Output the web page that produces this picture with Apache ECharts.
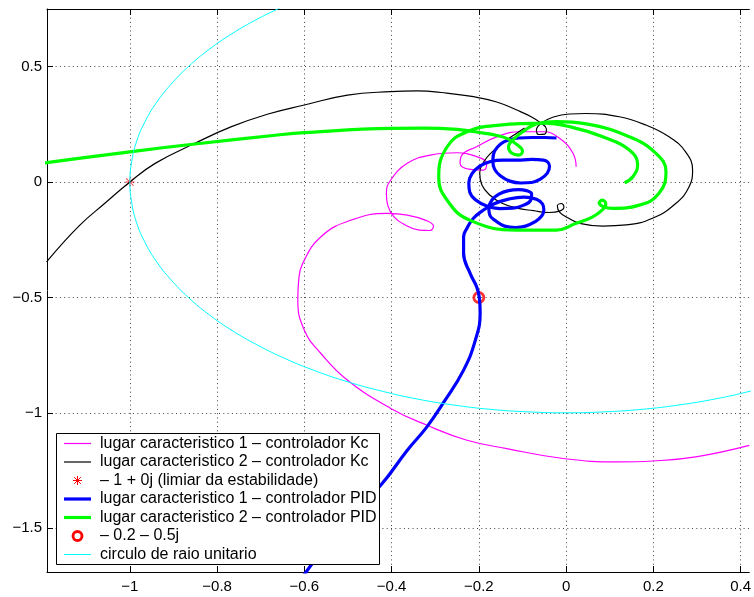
<!DOCTYPE html>
<html>
<head>
<meta charset="utf-8">
<script src="https://cdn.jsdelivr.net/npm/echarts@6/dist/echarts.min.js"></script>
<style>
  html, body { margin: 0; padding: 0; background: #fff; }
  #chart { width: 754px; height: 597px; }
</style>
</head>
<body>
<div id="chart"></div>
<script>
// tick values
var xTicks = [-1, -0.8, -0.6, -0.4, -0.2, 0, 0.2, 0.4];
var yTicks = [-1.5, -1, -0.5, 0, 0.5];

// lugar caracteristico 1 - controlador Kc
var kc1 = [
  [0.420, -1.141], [0.297, -1.191], [0.198, -1.209], [0.122, -1.213], [-0.007, -1.198],
  [-0.136, -1.155], [-0.227, -1.119], [-0.319, -1.054], [-0.402, -0.981], [-0.501, -0.859],
  [-0.562, -0.743], [-0.600, -0.642], [-0.615, -0.512], [-0.613, -0.425], [-0.604, -0.353],
  [-0.562, -0.237], [-0.493, -0.165], [-0.410, -0.136], [-0.364, -0.143], [-0.323, -0.165],
  [-0.304, -0.191], [-0.312, -0.210], [-0.337, -0.208], [-0.369, -0.186], [-0.394, -0.152],
  [-0.409, -0.100], [-0.412, -0.048], [-0.402, 0.009], [-0.364, 0.081], [-0.311, 0.117],
  [-0.250, 0.127], [-0.205, 0.110], [-0.182, 0.081], [-0.189, 0.052], [-0.220, 0.055],
  [-0.243, 0.081], [-0.239, 0.117], [-0.205, 0.153], [-0.159, 0.196], [-0.106, 0.218],
  [-0.052, 0.218], [-0.015, 0.190], [0.016, 0.124], [0.023, 0.066]
];

// lugar caracteristico 2 - controlador Kc
var kc2 = [
  [-1.191, -0.346], [-1.117, -0.191], [-1.056, -0.090], [-1.000, 0.000], [-0.942, 0.081],
  [-0.851, 0.168], [-0.767, 0.240], [-0.683, 0.295], [-0.600, 0.334], [-0.501, 0.377],
  [-0.402, 0.392], [-0.341, 0.395], [-0.280, 0.387], [-0.212, 0.370], [-0.159, 0.347],
  [-0.113, 0.312], [-0.079, 0.282], [-0.058, 0.256], [-0.045, 0.230], [-0.049, 0.208],
  [-0.062, 0.206], [-0.068, 0.225], [-0.056, 0.256], [-0.029, 0.282], [0.008, 0.295],
  [0.046, 0.297], [0.122, 0.283], [0.183, 0.247], [0.236, 0.196], [0.274, 0.131],
  [0.290, 0.052], [0.282, -0.020], [0.252, -0.092], [0.198, -0.157], [0.138, -0.186],
  [0.084, -0.191], [0.031, -0.179], [0.005, -0.156], [-0.015, -0.130], [-0.020, -0.104],
  [-0.011, -0.093], [-0.005, -0.108], [-0.015, -0.126], [-0.038, -0.132], [-0.075, -0.124],
  [-0.113, -0.113], [-0.148, -0.091], [-0.175, -0.056], [-0.193, -0.013], [-0.198, 0.039],
  [-0.189, 0.087], [-0.170, 0.130], [-0.143, 0.173], [-0.113, 0.212], [-0.095, 0.234]
];

// lugar caracteristico 1 - controlador PID
var pid1 = [
  [-0.620, -1.750], [-0.596, -1.690], [-0.531, -1.523], [-0.425, -1.314], [-0.364, -1.162],
  [-0.319, -1.061], [-0.280, -0.953], [-0.235, -0.815], [-0.208, -0.685], [-0.197, -0.569],
  [-0.199, -0.499], [-0.205, -0.454], [-0.220, -0.396], [-0.235, -0.309], [-0.235, -0.237],
  [-0.227, -0.199], [-0.214, -0.160], [-0.193, -0.126], [-0.166, -0.095], [-0.132, -0.074],
  [-0.097, -0.065], [-0.068, -0.074], [-0.054, -0.095], [-0.051, -0.121], [-0.056, -0.147],
  [-0.072, -0.173], [-0.093, -0.191], [-0.116, -0.197], [-0.141, -0.191], [-0.161, -0.169],
  [-0.175, -0.143], [-0.177, -0.113], [-0.170, -0.078], [-0.154, -0.052], [-0.132, -0.037],
  [-0.109, -0.033], [-0.091, -0.037], [-0.079, -0.052], [-0.081, -0.078], [-0.097, -0.100],
  [-0.122, -0.113], [-0.152, -0.115], [-0.182, -0.104], [-0.207, -0.078], [-0.221, -0.043],
  [-0.223, -0.004], [-0.216, 0.035], [-0.198, 0.069], [-0.173, 0.089], [-0.145, 0.095],
  [-0.113, 0.095], [-0.079, 0.098], [-0.052, 0.095], [-0.038, 0.069], [-0.043, 0.039],
  [-0.059, 0.013], [-0.079, -0.002], [-0.104, -0.004], [-0.129, 0.004], [-0.150, 0.026],
  [-0.164, 0.056], [-0.168, 0.095], [-0.164, 0.134], [-0.150, 0.165], [-0.132, 0.182],
  [-0.109, 0.191], [-0.079, 0.193], [-0.049, 0.193], [-0.022, 0.191]
];

// lugar caracteristico 2 - controlador PID
var pid2 = [
  [-1.250, 0.070], [-1.191, 0.084], [-1.000, 0.131], [-0.851, 0.165], [-0.661, 0.204],
  [-0.600, 0.214], [-0.402, 0.233], [-0.326, 0.234], [-0.250, 0.228], [-0.189, 0.212],
  [-0.159, 0.202], [-0.132, 0.186], [-0.111, 0.160], [-0.100, 0.134], [-0.109, 0.117],
  [-0.125, 0.126], [-0.132, 0.152], [-0.120, 0.186], [-0.097, 0.221], [-0.068, 0.252],
  [-0.022, 0.262], [0.046, 0.252], [0.145, 0.196], [0.206, 0.124], [0.229, 0.045],
  [0.213, -0.049], [0.168, -0.100], [0.107, -0.114], [0.087, -0.108], [0.076, -0.091],
  [0.083, -0.078], [0.091, -0.095], [0.081, -0.124], [0.060, -0.152], [0.023, -0.179],
  [-0.022, -0.208], [-0.113, -0.208], [-0.221, -0.165], [-0.273, -0.078], [-0.292, 0.023],
  [-0.273, 0.152], [-0.227, 0.218], [-0.152, 0.247], [-0.052, 0.255], [0.008, 0.240],
  [0.084, 0.196], [0.145, 0.139], [0.164, 0.074], [0.153, 0.023], [0.134, -0.003]
];

// circulo de raio unitario
var unitCircle = [
  [-0.643, 0.766], [-0.707, 0.707], [-0.766, 0.643], [-0.819, 0.574], [-0.866, 0.500],
  [-0.906, 0.423], [-0.940, 0.342], [-0.966, 0.259], [-0.985, 0.174], [-0.996, 0.087],
  [-1.000, 0.000], [-0.996, -0.087], [-0.985, -0.174], [-0.966, -0.259], [-0.940, -0.342],
  [-0.906, -0.423], [-0.866, -0.500], [-0.819, -0.574], [-0.766, -0.643], [-0.707, -0.707],
  [-0.643, -0.766], [-0.574, -0.819], [-0.500, -0.866], [-0.423, -0.906], [-0.342, -0.940],
  [-0.259, -0.966], [-0.174, -0.985], [-0.087, -0.996], [0.000, -1.000], [0.087, -0.996],
  [0.174, -0.985], [0.259, -0.966], [0.342, -0.940], [0.423, -0.906], [0.500, -0.866]
];

var criticalPoint = [[-1, 0]];
var designPoint = [[-0.2, -0.5]];

var names = [
  'lugar caracteristico 1 \u2013 controlador Kc',
  'lugar caracteristico 2 \u2013 controlador Kc',
  '\u2013 1 + 0j (limiar da estabilidade)',
  'lugar caracteristico 1 \u2013 controlador PID',
  'lugar caracteristico 2 \u2013 controlador PID',
  '\u2013 0.2 \u2013 0.5j',
  'circulo de raio unitario'
];
var colors = ['#ff00ff', '#000000', '#ff0000', '#0000ff', '#00ff00', '#ff0000', '#00ffff'];
var widths = [1.2, 1.2, 0, 3.2, 3.2, 0, 1];

var asterisk = 'path://M4.5 0h1v10h-1z M0 4.5h10v1h-10z M1.2 0.5L9.5 8.8L8.8 9.5L0.5 1.2z M8.8 0.5L9.5 1.2L1.2 9.5L0.5 8.8z';
var font = 'Liberation Sans, Arial, Helvetica, sans-serif';

function fmt(v) {
  return String(v).replace('-', '\u2212');
}

function curve(i, data) {
  return {
    name: names[i], type: 'line', data: data, smooth: 0.45,
    symbol: 'none', showSymbol: false, silent: true,
    lineStyle: { color: colors[i], width: widths[i] }
  };
}

// legend drawn by hand, MATLAB style
function legendGraphics() {
  var g = [];
  var x0 = 56, y0 = 433, rowH = 18.5;
  g.push({ type: 'rect', shape: { x: x0 + 0.5, y: y0 + 0.5, width: 323, height: 131 },
    style: { fill: '#fff', stroke: '#000', lineWidth: 1 }, z: 100 });
  for (var i = 0; i < names.length; i++) {
    var cy = y0 + 10.5 + i * rowH;
    if (i === 2) {
      // asterisk marker
      var segs = [[-4.5, 0, 4.5, 0], [0, -4.5, 0, 4.5], [-3.3, -3.3, 3.3, 3.3], [-3.3, 3.3, 3.3, -3.3]];
      for (var k = 0; k < segs.length; k++) {
        g.push({ type: 'line', shape: { x1: 77.5 + segs[k][0], y1: cy + segs[k][1], x2: 77.5 + segs[k][2], y2: cy + segs[k][3] },
          style: { stroke: colors[i], lineWidth: 1 }, z: 101 });
      }
    } else if (i === 5) {
      g.push({ type: 'circle', shape: { cx: 77.5, cy: cy, r: 4.5 },
        style: { fill: 'none', stroke: colors[i], lineWidth: 2.8 }, z: 101 });
    } else {
      g.push({ type: 'line', shape: { x1: 64, y1: cy, x2: 91, y2: cy },
        style: { stroke: colors[i], lineWidth: widths[i] }, z: 101 });
    }
    g.push({ type: 'text', x: 100, y: cy, z: 101,
      style: { text: names[i], fill: '#000', font: '16px ' + font, verticalAlign: 'middle' } });
  }
  return g;
}

var gridLine = { show: true, lineStyle: { color: '#444', width: 1, type: [1, 3.3] } };

var myChart = echarts.init(document.getElementById('chart'), null, { renderer: 'canvas' });

var option = {
  animation: false,
  backgroundColor: '#fff',
  grid: { left: 47, top: 9, width: 706, height: 563, containLabel: false },
  xAxis: [{
    type: 'value', min: -1.19, max: 0.42,
    axisLine: { show: true, onZero: false, lineStyle: { color: '#000', width: 1 } },
    axisTick: { show: true, inside: true, length: 6, customValues: xTicks, lineStyle: { color: '#000' } },
    axisLabel: { customValues: xTicks, formatter: fmt, color: '#000', fontSize: 15, fontFamily: font, margin: 7 },
    splitLine: gridLine
  }, {
    type: 'value', position: 'top', min: -1.19, max: 0.42,
    axisLine: { show: true, onZero: false, lineStyle: { color: '#000', width: 1 } },
    axisTick: { show: true, inside: true, length: 6, customValues: xTicks, lineStyle: { color: '#000' } },
    axisLabel: { show: false },
    splitLine: { show: false }
  }],
  yAxis: [{
    type: 'value', min: -1.69, max: 0.75,
    axisLine: { show: true, onZero: false, lineStyle: { color: '#000', width: 1 } },
    axisTick: { show: true, inside: true, length: 6, customValues: yTicks, lineStyle: { color: '#000' } },
    axisLabel: { customValues: yTicks, formatter: fmt, color: '#000', fontSize: 15, fontFamily: font, margin: 5 },
    splitLine: gridLine
  }],
  graphic: legendGraphics(),
  series: [
    curve(0, kc1),
    curve(1, kc2),
    {
      name: names[2], type: 'scatter', data: criticalPoint, symbol: asterisk, symbolSize: 9,
      itemStyle: { color: colors[2] }
    },
    curve(3, pid1),
    curve(4, pid2),
    {
      name: names[5], type: 'scatter', data: designPoint, symbol: 'circle', symbolSize: 10,
      itemStyle: { color: 'rgba(0,0,0,0)', borderColor: colors[5], borderWidth: 2.8 }
    },
    curve(6, unitCircle)
  ]
};

myChart.setOption(option);
</script>
</body>
</html>
